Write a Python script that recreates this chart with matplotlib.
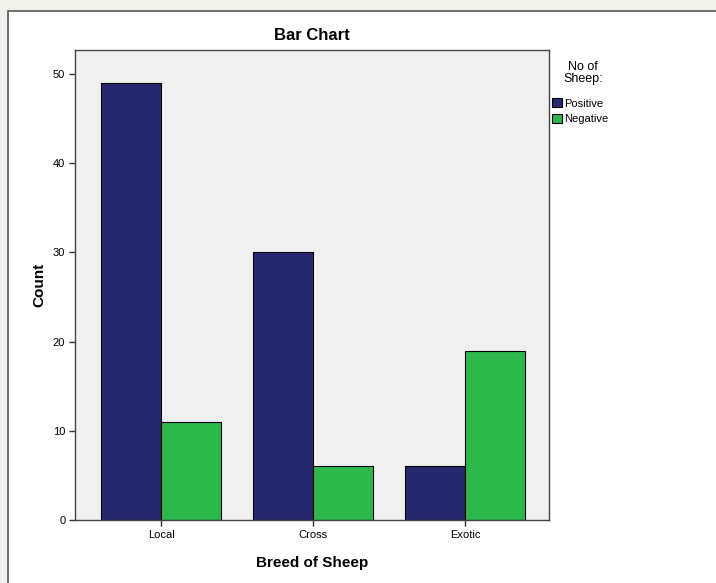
import numpy as np
import matplotlib.pyplot as plt
from matplotlib.patches import Rectangle, Patch

breeds = ["Local", "Cross", "Exotic"]
positive = [49, 30, 6]
negative = [11, 6, 19]
yticks = [0, 10, 20, 30, 40, 50]

navy = "#262970"
green = "#2db84b"

fig = plt.figure(figsize=(7.16, 5.83), dpi=100)
fig.patch.set_facecolor("#f1f1ec")
W, H = 716, 583

# white chart panel behind everything
panel = Rectangle((8 / W, -0.1), 1, 1.1 - 11 / H, transform=fig.transFigure,
                  facecolor="white", edgecolor="#555555", linewidth=1.2, zorder=-10)
fig.patches.append(panel)

ax = fig.add_axes([75 / W, 1 - 520 / H, (549 - 75) / W, (520 - 50) / H])
ax.set_facecolor("#f0f0f0")

x = np.arange(len(breeds))
w = 0.395
ax.bar(x - w / 2, positive, w, color=navy, edgecolor="black", linewidth=0.8, zorder=2)
ax.bar(x + w / 2, negative, w, color=green, edgecolor="black", linewidth=0.8, zorder=2)

ax.set_xlim(-0.566, 2.553)
ax.set_ylim(0, 52.7)
ax.set_xticks(x)
ax.set_xticklabels(breeds, fontsize=8, family="Liberation Sans")
ax.set_yticks(yticks)
ax.set_yticklabels([str(t) for t in yticks], fontsize=8, family="Liberation Sans")
ax.tick_params(direction="out", length=4, width=1, color="#333333", pad=3)

for s in ax.spines.values():
    s.set_color("#444444")
    s.set_linewidth(1)

ax.set_xlabel("Breed of Sheep", fontsize=11, fontweight="bold", family="Liberation Sans", labelpad=12)
ax.set_ylabel("Count", fontsize=11, fontweight="bold", family="Liberation Sans", labelpad=5)
ax.set_title("Bar Chart", fontsize=12, fontweight="bold", family="Liberation Sans", pad=7)

# legend
fig.text(583 / W, 1 - 73 / H, "No of\nSheep:", ha="center", va="center", ma="center",
         fontsize=9, family="Liberation Sans", linespacing=0.95)
handles = [Patch(facecolor=navy, edgecolor="black", linewidth=0.8),
           Patch(facecolor=green, edgecolor="black", linewidth=0.8)]
fig.legend(handles, ["Positive", "Negative"],
           loc="upper left", bbox_to_anchor=(550 / W, 1 - 96 / H),
           frameon=False, prop={"family": "Liberation Sans", "size": 8},
           handlelength=0.9, handleheight=0.9, handletextpad=0.2,
           labelspacing=0.45, borderaxespad=0, borderpad=0.2)

fig.savefig("out.png", dpi=100, facecolor=fig.get_facecolor())
